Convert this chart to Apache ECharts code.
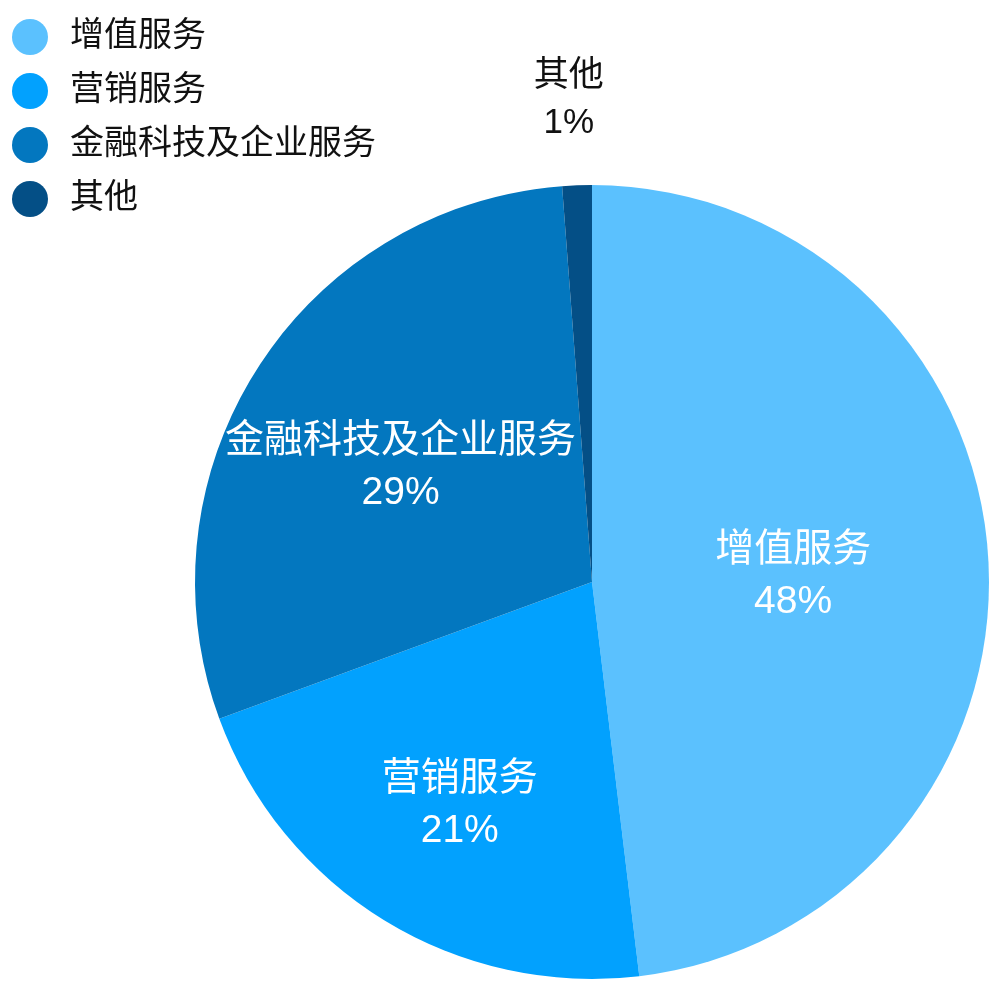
<!DOCTYPE html>
<html>
<head>
<meta charset="utf-8">
<script src="https://cdn.jsdelivr.net/npm/echarts@6/dist/echarts.min.js"></script>
<style>html,body{margin:0;padding:0;background:#fff;}#c{width:1000px;height:990px;}</style>
</head>
<body>
<div id="c"></div>
<script>
const categories = ['增值服务', '营销服务', '金融科技及企业服务', '其他'];
const values = [48.1, 21.3, 29.4, 1.2];
const colors = ['#5BC1FE', '#02A1FE', '#0377BF', '#044F86'];

const FONT = '"Liberation Sans", "Noto Sans CJK SC", sans-serif';
const labelShift = [[0, 6], [-27, 51], [-22, -6], [0, 0]];
const chart = echarts.init(document.getElementById('c'));
const data = categories.map((n, i) => {
  const item = { name: n, value: values[i], itemStyle: { color: colors[i] } };
  if (i === 3) {
    item.label = { position: 'outside', color: '#111', fontSize: 35, lineHeight: 47 };
    item.labelLine = { show: false, length: 85, length2: 0 };
  }
  return item;
});
chart.setOption({
  animation: false,
  legend: {
    orient: 'vertical', left: 7, top: 14,
    icon: 'circle', itemWidth: 36, itemHeight: 36, itemGap: 18,
    textStyle: { fontSize: 34, lineHeight: 36, color: '#111', fontFamily: FONT, padding: [0, 0, 0, 17] },
    data: categories
  },
  series: [{
    type: 'pie',
    center: [592, 582],
    radius: 397,
    startAngle: 90,
    clockwise: true,
    avoidLabelOverlap: false,
    label: {
      show: true, position: 'inside', color: '#fff', fontSize: 39, lineHeight: 52,
      fontFamily: FONT,
      formatter: p => p.name + '\n' + Math.round(p.value) + '%'
    },
    labelLine: { show: false },
    labelLayout: function (p) {
      const s = labelShift[p.dataIndex];
      if (p.dataIndex === 3) return { align: 'center' };
      return { dx: s[0], dy: s[1] };
    },
    data: data
  }]
});
</script>
</body>
</html>
